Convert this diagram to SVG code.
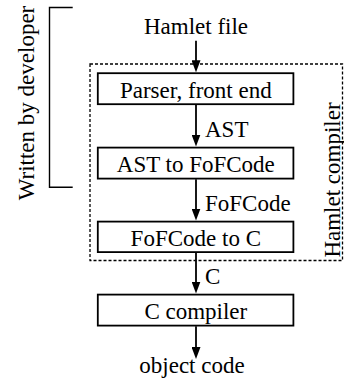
<svg xmlns="http://www.w3.org/2000/svg" width="344" height="383" viewBox="0 0 344 383">
  <defs>
    <marker id="arrow" viewBox="0 0 12 9" refX="6" refY="4.5" markerWidth="12" markerHeight="9" markerUnits="userSpaceOnUse" orient="auto">
      <path d="M0,0 L12,4.5 L0,9 z" fill="#000"/>
    </marker>
    <style>
      .mid { text-anchor: middle; }
      .box { fill: #fff; stroke: #000; stroke-width: 1.8; }
      .conn { stroke: #000; stroke-width: 1.8; fill: none; marker-end: url(#arrow); }
      .dash { fill: none; stroke: #000; stroke-width: 1.3; stroke-dasharray: 3 2; }
      .bracket { fill: none; stroke: #000; stroke-width: 1.4; }
    </style>
  </defs>
  <rect width="344" height="383" fill="#fff"/>

  <g font-family="Liberation Serif, Times New Roman, DejaVu Serif, serif" font-size="23" fill="#000">
  <g id="developer-bracket">
    <path class="bracket" d="M72.7,7.5 H49.5 V187.3 H72.7"/>
    <text class="mid" transform="translate(33.5,103) rotate(-90)">Written by developer</text>
  </g>

  <g id="hamlet-compiler">
    <rect class="dash" x="90" y="64" width="252.5" height="196.5"/>
    <text class="mid" transform="translate(339.5,180) rotate(-90)">Hamlet compiler</text>
  </g>

  <g id="connectors">
    <line class="conn" x1="196" y1="40.7" x2="196" y2="66.3"/>
    <line class="conn" x1="196" y1="105" x2="196" y2="140.5"/>
    <line class="conn" x1="196" y1="179.3" x2="196" y2="214.5"/>
    <line class="conn" x1="196" y1="252.7" x2="196" y2="287.5"/>
    <line class="conn" x1="196" y1="326.3" x2="196" y2="353"/>
    <text x="205" y="137.3">AST</text>
    <text x="205" y="210.7">FoFCode</text>
    <text x="205" y="284">C</text>
  </g>

  <g id="hamlet-file">
    <text class="mid" x="196" y="34">Hamlet file</text>
  </g>

  <g id="parser">
    <rect class="box" x="97.8" y="73.2" width="195.6" height="31"/>
    <text class="mid" x="195.8" y="98">Parser, front end</text>
  </g>

  <g id="ast-to-fofcode">
    <rect class="box" x="97.8" y="147.6" width="195.6" height="31"/>
    <text class="mid" x="195.8" y="172.3">AST to FoFCode</text>
  </g>

  <g id="fofcode-to-c">
    <rect class="box" x="97.8" y="221.6" width="195.6" height="30.5"/>
    <text class="mid" x="195.8" y="245.5">FoFCode to C</text>
  </g>

  <g id="c-compiler">
    <rect class="box" x="97.8" y="294.6" width="195.6" height="31"/>
    <text class="mid" x="195.8" y="319">C compiler</text>
  </g>

  <g id="object-code">
    <text class="mid" x="192" y="373">object code</text>
  </g>
  </g>
</svg>
